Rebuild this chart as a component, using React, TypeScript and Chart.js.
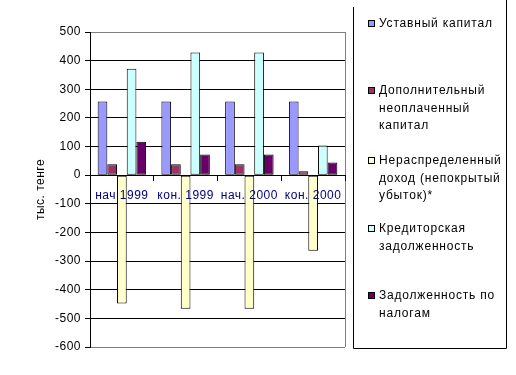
import React, { useEffect, useRef } from "react";
import { Chart, registerables } from "chart.js";

Chart.register(...registerables);

const CATEGORIES = ["нач 1999", "кон. 1999", "нач. 2000", "кон. 2000"];

const SERIES_NAMES = [
  "Уставный капитал",
  "Дополнительный\nнеоплаченный\nкапитал",
  "Нераспределенный\nдоход (непокрытый\nубыток)*",
  "Кредиторская\nзадолженность",
  "Задолженность по\nналогам",
];

const USTAVNY = [257, 257, 257, 257];
const DOPOLN = [38, 38, 38, 14];
const NERASPRED = [-448, -466, -466, -264];
const KREDITOR = [372, 428, 428, 104];
const NALOGI = [117, 72, 72, 44];

const SERIES_VALUES = [USTAVNY, DOPOLN, NERASPRED, KREDITOR, NALOGI];
const SERIES_COLORS = ["#9999FF", "#993366", "#FFFFCC", "#CCFFFF", "#660066"];

const Y_MIN = -600;
const Y_MAX = 500;
const Y_STEP = 100;
const Y_TITLE = "тыс. тенге";

const FONT = "'Liberation Sans', Arial, sans-serif";

const spacing = {
  id: "spacing",
  beforeDraw(chart: any) {
    (chart.ctx as any).letterSpacing = "0.5px";
  },
};

const sideLegend = {
  id: "sideLegend",
  afterDraw(chart: any) {
    const ctx = chart.ctx;
    ctx.save();
    ctx.strokeStyle = "#000";
    ctx.lineWidth = 1;
    ctx.beginPath();
    ctx.moveTo(353.5, 7);
    ctx.lineTo(353.5, 348.5);
    ctx.lineTo(506.5, 348.5);
    ctx.lineTo(506.5, 0);
    ctx.stroke();
    ctx.font = "12px " + FONT;
    (ctx as any).letterSpacing = "0.8px";
    ctx.textBaseline = "middle";
    ctx.textAlign = "left";
    const itemY = [24, 91, 161, 229, 296];
    chart.data.datasets.forEach((ds: any, i: number) => {
      const y0 = itemY[i];
      ctx.fillStyle = ds.backgroundColor;
      ctx.fillRect(368.5, y0 - 3.5, 6, 6);
      ctx.strokeStyle = "#000";
      ctx.strokeRect(368.5, y0 - 3.5, 6, 6);
      ctx.fillStyle = "#000";
      const lines = String(SERIES_NAMES[i]).split("\n");
      lines.forEach((l, j) => ctx.fillText(l, 379, y0 + j * 17.5));
    });
    ctx.restore();
  },
};

const frame = {
  id: "frame",
  beforeDatasetsDraw(chart: any) {
    const { ctx, chartArea } = chart;
    ctx.save();
    ctx.strokeStyle = "#808080";
    ctx.lineWidth = 1;
    ctx.beginPath();
    const r = Math.round(chartArea.right) + 0.5;
    ctx.moveTo(r, chartArea.top);
    ctx.lineTo(r, chartArea.bottom);
    ctx.stroke();
    ctx.restore();
  },
};

export default function App() {
  const ref = useRef<HTMLCanvasElement>(null);
  useEffect(() => {
    if (!ref.current) return;
    const chart = new Chart(ref.current, {
      type: "bar",
      data: {
        labels: CATEGORIES,
        datasets: SERIES_VALUES.map((vals, i) => ({
          label: SERIES_NAMES[i].replace(/\n/g, " "),
          data: vals,
          backgroundColor: SERIES_COLORS[i],
          borderColor: "#000",
          borderWidth: 1,
          borderSkipped: false,
          categoryPercentage: 0.76,
          barPercentage: 1,
        })),
      },
      options: {
        animation: false,
        responsive: false,
        maintainAspectRatio: false,
        layout: { padding: { left: 0, top: 32, right: 171, bottom: 28 } },
        plugins: {
          legend: { display: false },
          tooltip: { enabled: false },
        },
        scales: {
          x: {
            position: { y: 0 } as any,
            grid: {
              drawOnChartArea: false,
              drawTicks: true,
              tickLength: 5,
              color: "#000",
              offset: true,
              z: 1,
            },
            border: { color: "#000", width: 1, z: 1 },
            ticks: {
              color: "#000080",
              font: { family: FONT, size: 12 },
              padding: 8,
              maxRotation: 0,
              autoSkip: false,
              z: 1,
            },
          },
          y: {
            min: Y_MIN,
            max: Y_MAX,
            ticks: {
              stepSize: Y_STEP,
              color: "#000",
              font: { family: FONT, size: 12 },
              padding: 4,
            },
            grid: {
              color: (c: any) =>
                c.tick && (c.tick.value === Y_MAX || c.tick.value === Y_MIN) ? "#808080" : "#000",
              tickColor: "#000",
              tickLength: 5,
              lineWidth: 1,
            },
            border: { color: "#000", width: 1 },
            title: {
              display: true,
              text: Y_TITLE,
              color: "#000",
              font: { family: FONT, size: 12 },
              padding: { top: 33, bottom: 0 },
            },
            afterFit: (s: any) => {
              s.width = 90;
            },
          },
        },
      },
      plugins: [spacing, frame, sideLegend],
    });
    return () => chart.destroy();
  }, []);
  return (
    <div style={{ position: "fixed", left: 0, top: 0, width: 516, height: 375, background: "#fff" }}>
      <canvas ref={ref} width={516} height={375} style={{ display: "block" }} />
    </div>
  );
}
